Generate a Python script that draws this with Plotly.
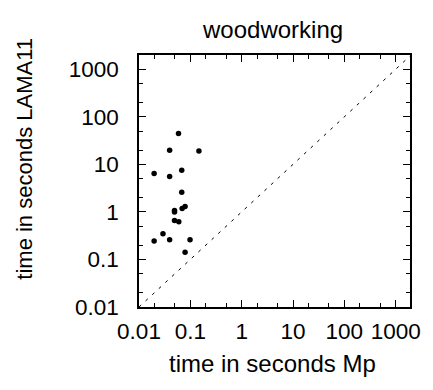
import plotly.graph_objects as go

# runtimes (seconds) per instance
mp_time = [0.0588, 0.0395, 0.147, 0.0197, 0.0395, 0.068, 0.068, 0.0492, 0.0492,
           0.0692, 0.079, 0.0492, 0.0596, 0.0293, 0.0197, 0.0395, 0.0986, 0.079]
lama_time = [44.3, 19.8, 19.2, 6.45, 5.58, 7.56, 2.58, 1.07, 1.0,
             1.18, 1.30, 0.66, 0.618, 0.347, 0.244, 0.26, 0.26, 0.141]

major = [0.01, 0.1, 1, 10, 100, 1000]
major_text = ["0.01", "0.1", "1", "10", "100", "1000"]
minor = [m * v for v in [0.01, 0.1, 1, 10, 100, 1000] for m in (2, 5)]
lim = [0.01, 1900]

family = "Liberation Sans, Arial, sans-serif"
tickfont = dict(family=family, size=22.5, color="black")

fig = go.Figure()
fig.add_trace(go.Scatter(
    x=lim, y=lim, mode="lines",
    line=dict(color="black", width=1, dash="3px,6px"),
    hoverinfo="skip", showlegend=False,
))
fig.add_trace(go.Scatter(
    x=mp_time, y=lama_time, mode="markers",
    marker=dict(color="black", size=5.5),
    showlegend=False,
))

axis = dict(
    type="log", range=[-2, 3.279],
    showgrid=False, zeroline=False,
    showline=True, linecolor="black", linewidth=1.5, mirror="ticks",
    ticks="inside", ticklen=7, tickwidth=1, tickcolor="black",
    tickmode="array", tickvals=major, ticktext=major_text,
    minor=dict(ticks="inside", ticklen=4, tickwidth=1, tickcolor="black",
               tickmode="array", tickvals=minor, showgrid=False),
    tickfont=tickfont,
)

# page body has an 8px default margin, so the figure is 8px smaller
fig.update_layout(
    width=425, height=382,
    margin=dict(l=131, r=20, t=47, b=83),
    plot_bgcolor="white", paper_bgcolor="white",
    font=dict(family=family, color="black"),
    xaxis=dict(axis, ticklabelstandoff=3),
    yaxis=dict(axis, range=[-2, 3.3], ticklabelstandoff=14),
    annotations=[
        dict(text="woodworking", xref="paper", yref="paper", x=0.493, y=1.1,
             xanchor="center", yanchor="middle", showarrow=False,
             font=dict(size=24)),
        dict(text="time in seconds Mp", xref="paper", yref="paper", x=0.493,
             y=-0.225, xanchor="center", yanchor="middle", showarrow=False,
             font=dict(size=24)),
        dict(text="time in seconds LAMA11", xref="paper", yref="paper",
             x=-0.423, y=0.59, xanchor="center", yanchor="middle",
             textangle=-90, showarrow=False, font=dict(size=22)),
    ],
)

fig.write_html("out.html")
